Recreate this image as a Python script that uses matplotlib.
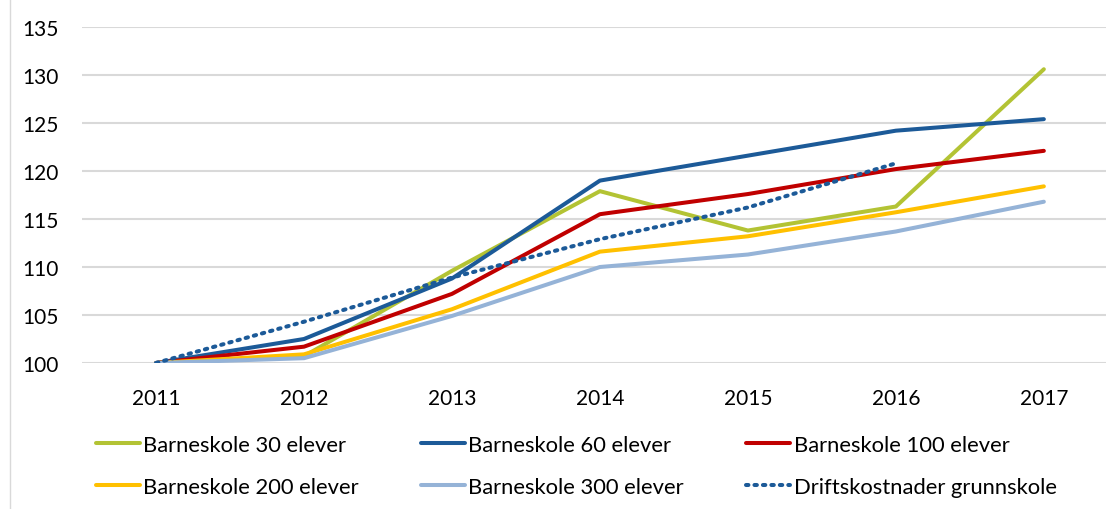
import matplotlib
matplotlib.use("Agg")
import matplotlib.pyplot as plt

plt.rcParams['font.family'] = ['Lato', 'DejaVu Sans']

# data
years = ["2011", "2012", "2013", "2014", "2015", "2016", "2017"]
skole_30 = [100, 100.7, 109.6, 117.9, 113.8, 116.3, 130.6]
skole_60 = [100, 102.5, 108.8, 119.0, 121.6, 124.2, 125.4]
skole_100 = [100, 101.7, 107.2, 115.5, 117.6, 120.2, 122.1]
skole_200 = [100, 100.9, 105.6, 111.6, 113.2, 115.7, 118.4]
skole_300 = [100, 100.5, 104.9, 110.0, 111.3, 113.7, 116.8]
drift = [100, 104.3, 108.9, 112.9, 116.2, 120.8]

labels = ["Barneskole 30 elever", "Barneskole 60 elever", "Barneskole 100 elever",
          "Barneskole 200 elever", "Barneskole 300 elever", "Driftskostnader grunnskole"]
colors = ["#B3C334", "#1C5A98", "#C00000", "#FFC000", "#95B3D7", "#1C5A98"]

fig = plt.figure(figsize=(11.06, 5.10), dpi=100)
ax = fig.add_axes([82 / 1106, 1 - 364 / 510, (1106 - 82) / 1106, (364 - 28) / 510])

x = list(range(len(years)))
series = [skole_30, skole_60, skole_100, skole_200, skole_300]
lines = []
for vals, col, lab in zip(series, colors[:5], labels[:5]):
    ln, = ax.plot(x, vals, color=col, lw=2.9, label=lab, solid_capstyle='round')
    lines.append(ln)
ln, = ax.plot(x[:len(drift)], drift, color=colors[5], lw=2.9, ls=(0, (0.6, 1.5)),
              dash_capstyle='round', label=labels[5])
lines.append(ln)

ax.set_ylim(100, 135)
ax.set_yticks(range(100, 136, 5))
ax.set_xlim(-0.5, 6.42)
ax.set_xticks(x)
ax.set_xticklabels(years)
ax.grid(axis='y', color='#D9D9D9', lw=1.5)
ax.set_axisbelow(True)
for s in ax.spines.values():
    s.set_visible(False)
ax.tick_params(length=0, labelsize=15, colors='#000000')
ax.tick_params(axis='y', pad=17)
ax.tick_params(axis='x', pad=18)

fig.add_artist(plt.Line2D([10 / 1106, 10 / 1106], [0, 1], color='#D9D9D9', lw=1))

# legend fills column by column, so interleave to get row order
order = [0, 3, 1, 4, 2, 5]
fig.legend(handles=[lines[i] for i in order], labels=[labels[i] for i in order],
           ncol=3, frameon=False, fontsize=15.8,
           loc='upper left', bbox_to_anchor=(76 / 1106, 1 - 416 / 510),
           handlelength=2.0, handletextpad=0.15, columnspacing=2.85, labelspacing=1.0)

fig.savefig("out.png", dpi=100)
